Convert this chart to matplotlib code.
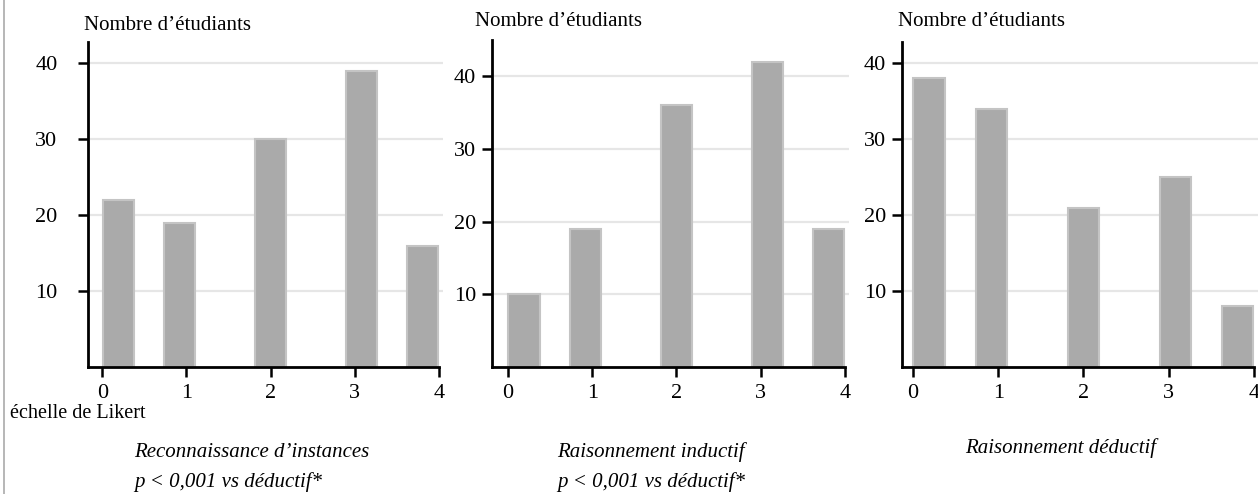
import numpy as np
import matplotlib.pyplot as plt
from matplotlib.lines import Line2D

# ------------
# Data
# ------------
likert = [0, 1, 2, 3, 4]
instances = [22, 19, 30, 39, 16]
inductif = [10, 19, 36, 42, 19]
deductif = [38, 34, 21, 25, 8]

titles = [["Reconnaissance d\u2019instances", "p < 0,001 vs d\u00e9ductif*"],
          ["Raisonnement inductif", "p < 0,001 vs d\u00e9ductif*"],
          ["Raisonnement d\u00e9ductif"]]
ylabel = "Nombre d\u2019\u00e9tudiants"
xlabel = "\u00e9chelle de Likert"

# bars are drawn slightly off their ticks in the original layout
bar_shift = np.array([0.19, -0.08, 0.0, 0.08, -0.19])

plt.rcParams['font.family'] = ['Liberation Serif', 'DejaVu Serif']

W, H = 1258, 494
fig = plt.figure(figsize=(W / 100, H / 100), dpi=100)

# left, right, top (pixels), xlim left, ylim top, y tick pad
panels = [
    (88, 443, 42, -0.17, 42.8, 15),
    (492, 849, 40, -0.19, 45.0, 4.5),
    (902, 1258, 42, -0.13, 42.8, 4.5),
]
ylabel_pos = [(84, 26), (475, 21), (898, 22)]
title_pos = [(134, [452, 482]), (557, [452, 482]), (965, [448])]
series = [instances, inductif, deductif]

for i, (l, r, t, x0, ytop, ypad) in enumerate(panels):
    bottom = 367
    ax = fig.add_axes([l / W, 1 - bottom / H, (r - l) / W, (bottom - t) / H])
    x = np.array(likert) + bar_shift
    ax.bar(x, series[i], width=0.37, color='#aaaaaa', edgecolor='#c4c4c4',
           linewidth=1.5, zorder=2)
    ax.set_xlim(x0, 4.05)
    ax.set_ylim(0, ytop)
    ax.set_yticks([10, 20, 30, 40])
    ax.set_xticks(likert)
    ax.yaxis.grid(True, color='#e6e6e6', linewidth=1.6, zorder=0)
    ax.set_axisbelow(True)
    for s in ['top', 'right']:
        ax.spines[s].set_visible(False)
    for s in ['left', 'bottom']:
        ax.spines[s].set_linewidth(2)
        ax.spines[s].set_color('black')
    ax.spines['bottom'].set_bounds(x0, 4.0)
    ax.tick_params(axis='both', length=7, width=1.8, direction='out',
                   labelsize=16, color='black')
    ax.tick_params(axis='y', pad=ypad)
    ax.tick_params(axis='x', pad=5)

    # labels
    px, py = ylabel_pos[i]
    fig.text(px / W, 1 - py / H, ylabel, fontsize=15, ha='left', va='center')
    tx, tys = title_pos[i]
    for line, ty in zip(titles[i], tys):
        fig.text(tx / W, 1 - ty / H, line, fontsize=15, style='italic',
                 ha='left', va='center')

fig.text(10 / W, 1 - 413 / H, xlabel, fontsize=14.5, ha='left', va='center')

# page border on the left
fig.add_artist(Line2D([4 / W, 4 / W], [0, 1], color='#aaaaaa',
                      linewidth=1.2, transform=fig.transFigure))

fig.savefig('out.png', dpi=100)
